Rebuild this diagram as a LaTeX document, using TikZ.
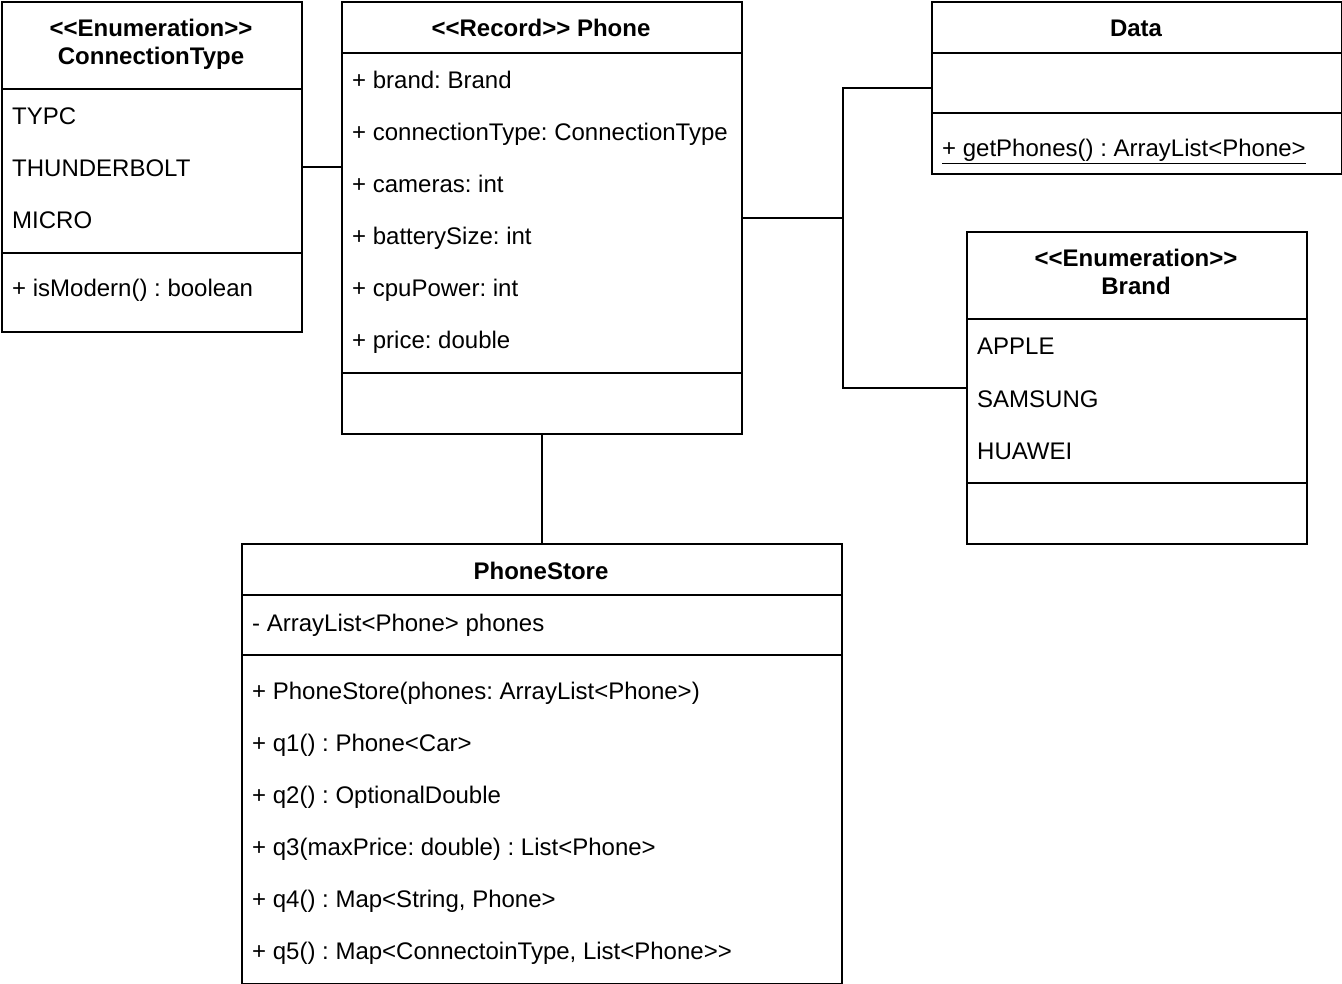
\documentclass[tikz,border=0pt]{standalone}
\usepackage{fontspec}
\newfontfamily\umlfont{Liberation Sans}
\frenchspacing
\tikzset{
  classbox/.style={draw, line width=2pt, inner sep=0pt, anchor=north west},
  member/.style={anchor=base west, inner sep=0pt, font=\umlfont\fontsize{24}{28}\selectfont},
  title/.style={anchor=base, inner sep=0pt, font=\umlfont\fontsize{24}{28}\selectfont\bfseries},
  link/.style={line width=2pt}
}
\begin{document}
\begin{tikzpicture}[x=1pt, y=-1pt]
  \useasboundingbox (0,0) rectangle (1342,984);
  % class frames
  \node[classbox, minimum width=300pt, minimum height=330pt] (ctype) at (1,1) {};
  \node[classbox, minimum width=400pt, minimum height=432pt] (phone) at (341,1) {};
  \node[classbox, minimum width=410pt, minimum height=172pt] (data) at (931,1) {};
  \node[classbox, minimum width=340pt, minimum height=312pt] (brand) at (966,231) {};
  \node[classbox, minimum width=600pt, minimum height=440pt] (store) at (241,543) {};
  % compartments
  \begin{scope}[link]
    \draw (1,89) -- (301,89);
    \draw (1,253) -- (301,253);
    \draw (341,53) -- (741,53);
    \draw (341,373) -- (741,373);
    \draw (931,53) -- (1341,53);
    \draw (931,113) -- (1341,113);
    \draw (966,319) -- (1306,319);
    \draw (966,483) -- (1306,483);
    \draw (241,595) -- (841,595);
    \draw (241,655) -- (841,655);
  \end{scope}
  % ConnectionType
  \node[title] (ctype-s) at (151,37) {<<Enumeration>>};
  \node[title] (ctype-t) at (151,65) {ConnectionType};
  \node[member] (ctype-1) at (12,125) {TYPC};
  \node[member] (ctype-2) at (12,177) {THUNDERBOLT};
  \node[member] (ctype-3) at (12,229) {MICRO};
  \node[member] (ctype-m) at (12,297) {+ isModern() : boolean};
  % Phone
  \node[title] (phone-t) at (541,37) {<<Record>> Phone};
  \node[member] (phone-1) at (352,89) {+ brand: Brand};
  \node[member] (phone-2) at (352,141) {+ connectionType: ConnectionType};
  \node[member] (phone-3) at (352,193) {+ cameras: int};
  \node[member] (phone-4) at (352,245) {+ batterySize: int};
  \node[member] (phone-5) at (352,297) {+ cpuPower: int};
  \node[member] (phone-6) at (352,349) {+ price: double};
  % Data
  \node[title] (data-t) at (1136,37) {Data};
  \node[member] (data-m) at (942,157) {\underline{+ getPhones() : ArrayList<Phone>}};
  % Brand
  \node[title] (brand-s) at (1136,267) {<<Enumeration>>};
  \node[title] (brand-t) at (1136,295) {Brand};
  \node[member] (brand-1) at (977,355) {APPLE};
  \node[member] (brand-2) at (977,407) {SAMSUNG};
  \node[member] (brand-3) at (977,459) {HUAWEI};
  % PhoneStore
  \node[title] (store-t) at (541,579) {PhoneStore};
  \node[member] (store-a) at (252,631) {- ArrayList<Phone> phones};
  \node[member] (store-1) at (252,699) {+ PhoneStore(phones: ArrayList<Phone>)};
  \node[member] (store-2) at (252,751) {+ q1() : Phone<Car>};
  \node[member] (store-3) at (252,803) {+ q2() : OptionalDouble};
  \node[member] (store-4) at (252,855) {+ q3(maxPrice: double) : List<Phone>};
  \node[member] (store-5) at (252,907) {+ q4() : Map<String, Phone>};
  \node[member] (store-6) at (252,959) {+ q5() : Map<ConnectoinType, List<Phone>>};
  % links
  \begin{scope}[link]
    \draw (ctype.east) -- (ctype.east -| phone.west);
    \draw (phone.east) -- ++(100,0) |- (data.west);
    \draw (phone.east) -- ++(100,0) |- (brand.west);
    \draw (phone.south) -- (store.north);
  \end{scope}
\end{tikzpicture}
\end{document}
